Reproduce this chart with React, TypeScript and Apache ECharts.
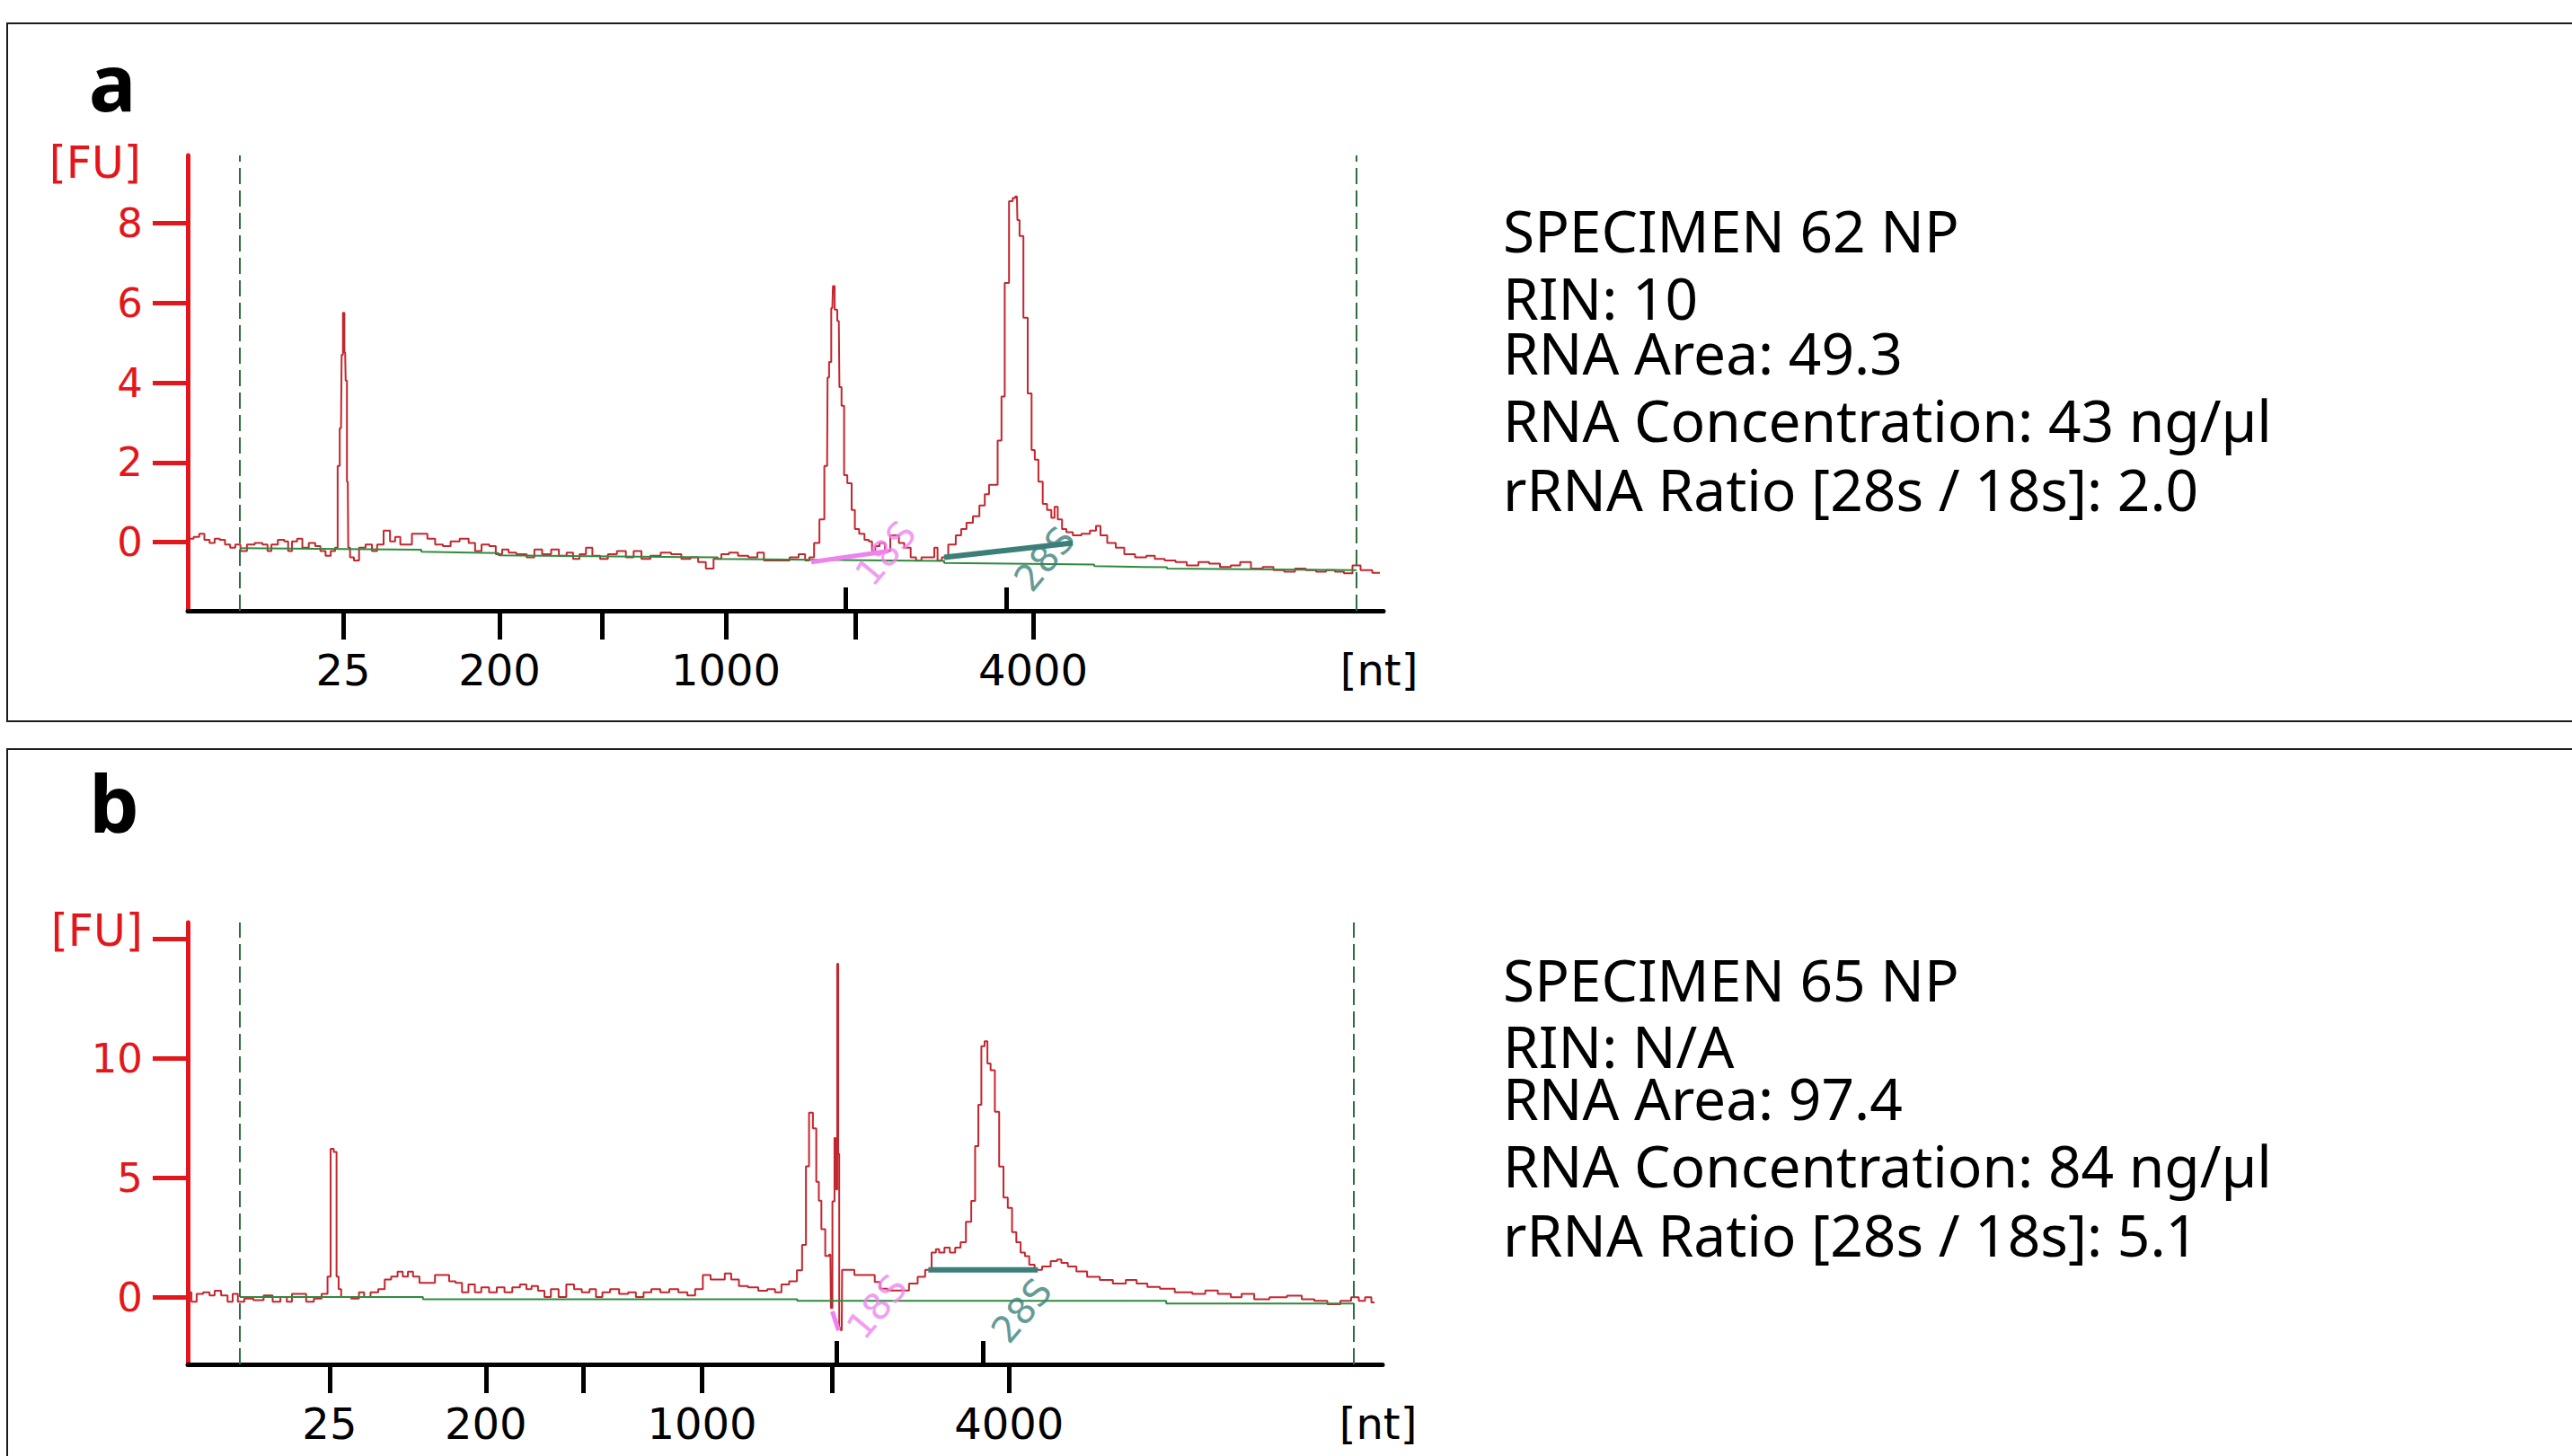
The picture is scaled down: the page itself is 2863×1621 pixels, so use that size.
import React, { useEffect, useRef } from "react";
import * as echarts from "echarts";

// ---------- DATA ----------
// x = migration position (arbitrary time units), y = fluorescence [FU]
const traceA: [number, number][] = [
  [0.3, 0.09], [1.0, 0.13], [1.56, 0.21], [2.14, 0.06], [2.71, -0.02], [3.28, 0.09], [3.86, 0.06], [4.43, -0.06],
  [5.01, -0.14], [5.58, -0.06], [6.15, -0.22], [7.02, -0.06], [7.88, -0.02], [8.74, -0.06], [9.02, -0.22], [9.6, -0.06],
  [10.46, 0.06], [11.03, 0.02], [11.32, -0.22], [11.89, 0.02], [12.47, 0.09], [13.04, -0.14], [13.9, -0.02], [14.48, -0.1],
  [15.05, -0.22], [15.63, -0.34], [16.2, -0.22], [16.6, -0.14], [16.77, 1.91], [17.06, 2.86], [17.2, 4.7], [17.35, 5.75],
  [17.52, 4.76], [17.63, 4.05], [17.81, 1.52], [17.92, -0.14], [18.21, -0.38], [18.78, -0.46], [19.36, -0.14], [20.22, -0.06],
  [20.79, -0.22], [21.37, -0.06], [22.23, 0.29], [22.8, 0.02], [23.37, 0.13], [23.95, -0.06], [24.52, -0.06], [25.38, 0.21],
  [26.24, 0.21], [27.11, 0.09], [27.97, -0.06], [28.83, -0.1], [29.69, 0.02], [30.84, 0.09], [31.7, -0.02], [32.27, -0.22],
  [33.13, -0.06], [34.0, -0.1], [34.57, -0.3], [35.43, -0.18], [36.0, -0.26], [37.15, -0.3], [38.3, -0.38], [38.87, -0.18],
  [40.02, -0.3], [40.88, -0.18], [41.74, -0.34], [42.6, -0.26], [43.18, -0.42], [44.04, -0.3], [44.61, -0.14], [45.47, -0.34],
  [46.33, -0.42], [47.2, -0.3], [48.34, -0.22], [49.2, -0.38], [50.07, -0.22], [50.93, -0.42], [52.07, -0.34], [53.22, -0.26],
  [54.37, -0.3], [55.52, -0.42], [56.38, -0.38], [57.24, -0.5], [58.1, -0.66], [58.96, -0.42], [59.82, -0.3], [60.68, -0.26],
  [61.83, -0.34], [62.98, -0.38], [63.84, -0.26], [64.42, -0.46], [65.56, -0.46], [66.42, -0.46], [67.57, -0.38], [68.43, -0.3],
  [69.01, -0.46], [69.36, -0.38], [70.08, -0.02], [70.55, 0.57], [71.17, 1.91], [71.27, 4.13], [71.51, 4.52], [71.75, 5.87],
  [71.89, 6.42], [72.13, 5.83], [72.47, 5.55], [72.61, 3.89], [72.94, 3.42], [73.18, 1.68], [73.66, 1.48], [74.14, 0.81],
  [74.38, 0.33], [75.09, 0.21], [75.57, 0.06], [76.05, 0.02], [76.29, -0.22], [76.77, -0.1], [77.25, -0.02], [77.96, -0.22],
  [78.44, 0.17], [78.92, 0.17], [79.4, -0.02], [80.11, -0.14], [80.83, -0.38], [81.31, -0.46], [82.03, -0.38], [82.98, -0.38],
  [83.22, -0.14], [83.7, -0.46], [84.18, -0.38], [85.13, -0.06], [85.85, 0.17], [86.33, 0.33], [87.04, 0.49], [87.76, 0.65],
  [88.48, 0.92], [88.96, 1.2], [89.43, 1.44], [89.91, 1.44], [90.39, 2.55], [90.77, 3.65], [91.11, 6.5], [91.73, 8.55],
  [91.92, 8.63], [92.3, 8.67], [92.4, 8.08], [92.78, 7.68], [93.26, 5.63], [93.74, 3.73], [94.12, 2.31], [94.45, 2.07],
  [94.93, 1.52], [95.41, 0.96], [95.89, 0.81], [96.37, 0.61], [96.6, 0.89], [97.08, 0.57], [97.56, 0.33], [98.04, 0.25],
  [99.0, 0.17], [99.95, 0.21], [100.9, 0.29], [101.3, 0.41], [101.9, 0.17], [102.8, -0.02], [103.8, -0.14], [104.7, -0.3],
  [106.2, -0.38], [107.2, -0.34], [108.1, -0.42], [109.4, -0.46], [110.5, -0.5], [111.9, -0.58], [113.1, -0.5], [114.3, -0.54],
  [115.5, -0.62], [116.7, -0.58], [117.6, -0.5], [119.1, -0.66], [120.2, -0.62], [121.5, -0.7], [122.6, -0.74], [123.9, -0.66],
  [125.0, -0.7], [126.2, -0.74], [127.2, -0.7], [128.2, -0.74], [129.2, -0.78], [130.1, -0.58], [131.0, -0.7], [132.7, -0.77],
];

const baselineA: [number, number][] = [
  [5.8, -0.15], [26.0, -0.19], [26.0, -0.24], [34.6, -0.27], [34.6, -0.33], [59.0, -0.38], [59.0, -0.42],
  [84.2, -0.47], [84.2, -0.52], [100.9, -0.56], [100.9, -0.6], [109.0, -0.63], [109.0, -0.66], [130.1, -0.7],
];
const rRNA18A: [number, number][] = [[69.4, -0.5], [78.0, -0.22]];
const rRNA28A: [number, number][] = [[84.2, -0.38], [98.5, -0.02]];

const traceB: [number, number][] = [
  [0.13, 0.2], [0.7, -0.2], [1.28, 0.13], [2.14, 0.2], [2.71, 0.07], [3.28, 0.26], [4.15, 0.07], [4.72, -0.2],
  [5.29, 0.13], [5.87, -0.2], [6.73, -0.07], [7.88, -0.13], [9.02, 0.07], [9.89, -0.2], [10.75, 0.0], [11.32, -0.2],
  [11.89, 0.13], [12.76, 0.13], [13.62, -0.2], [14.48, -0.07], [15.34, 0.13], [15.8, 0.86], [16.03, 6.2], [16.49, 6.07],
  [16.66, 0.86], [16.95, 0.33], [17.23, 0.0], [17.63, 0.0], [18.78, -0.07], [19.36, 0.2], [19.93, 0.0], [20.79, 0.2],
  [21.65, 0.33], [22.23, 0.73], [23.09, 0.86], [23.66, 1.06], [24.24, 0.86], [24.81, 1.06], [25.38, 0.86], [26.24, 0.59],
  [27.11, 0.59], [27.97, 0.92], [28.83, 0.92], [29.4, 0.66], [30.26, 0.59], [30.84, 0.2], [31.7, 0.53], [32.27, 0.2],
  [33.13, 0.4], [34.0, 0.2], [34.85, 0.4], [35.72, 0.2], [36.58, 0.4], [37.44, 0.53], [38.01, 0.33], [38.59, 0.46],
  [39.45, 0.26], [40.02, 0.0], [40.88, 0.33], [41.74, 0.0], [42.6, 0.53], [43.46, 0.33], [44.33, 0.2], [45.19, 0.33],
  [45.76, 0.0], [46.62, 0.2], [47.48, 0.33], [48.63, 0.13], [49.49, 0.2], [50.35, 0.0], [51.21, 0.2], [52.07, 0.33],
  [53.22, 0.2], [54.08, 0.33], [55.23, 0.2], [56.09, 0.07], [56.95, 0.33], [57.81, 0.92], [58.68, 0.73], [59.54, 0.73],
  [60.11, 0.99], [60.97, 0.73], [61.83, 0.46], [62.98, 0.4], [64.13, 0.26], [64.99, 0.33], [65.85, 0.2], [66.42, 0.53],
  [67.57, 0.66], [68.15, 1.12], [68.72, 2.18], [69.01, 5.47], [69.41, 7.72], [69.87, 7.06], [70.16, 4.82], [70.44, 4.03],
  [70.73, 2.84], [71.3, 1.72], [71.59, 1.78], [71.7, -0.46], [71.93, 4.0], [72.16, 6.66], [72.3, 4.5], [72.4, 13.95],
  [72.52, 6.0], [72.62, -1.3], [72.85, -1.39], [72.94, 1.14], [74.14, 1.14], [74.38, 0.92], [76.29, 0.92], [76.77, 0.63],
  [77.48, 0.35], [78.44, 0.27], [79.87, 0.27], [80.83, 0.56], [81.79, 0.85], [82.5, 1.14], [83.22, 1.86], [83.46, 2.0],
  [83.94, 1.86], [84.65, 2.07], [85.13, 1.86], [85.85, 2.07], [86.33, 2.29], [87.04, 3.15], [87.52, 4.02], [87.9, 6.32],
  [88.24, 8.05], [88.57, 10.5], [88.96, 10.71], [89.2, 9.78], [89.67, 9.49], [90.15, 7.76], [90.63, 5.46], [91.11, 4.16],
  [91.59, 3.73], [92.06, 2.72], [92.54, 2.29], [93.02, 1.86], [93.5, 1.71], [93.98, 1.35], [94.69, 1.14], [95.65, 1.28],
  [96.6, 1.5], [97.08, 1.57], [97.56, 1.43], [98.52, 1.28], [99.47, 1.07], [100.9, 0.85], [102.3, 0.71], [103.8, 0.56],
  [105.2, 0.71], [106.2, 0.56], [107.6, 0.42], [109.0, 0.35], [110.9, 0.2], [112.9, 0.13], [113.8, 0.27], [115.7, 0.13],
  [116.7, -0.01], [118.1, 0.13], [119.5, -0.09], [121.5, -0.01], [123.4, 0.06], [124.8, -0.09], [126.2, -0.16], [127.7, -0.3],
  [129.1, -0.16], [130.1, -0.01], [130.8, -0.16], [131.5, -0.01], [132.2, -0.23],
];

const baselineB: [number, number][] = [
  [5.8, 0.0], [26.2, 0.0], [26.2, -0.09], [67.9, -0.09], [67.9, -0.16], [109.0, -0.16], [109.0, -0.27], [129.9, -0.27],
];
const rRNA18B: [number, number][] = [[71.8, -0.6], [72.5, -1.4]];
const rRNA28B: [number, number][] = [[82.5, 1.14], [94.7, 1.14]];

// ladder ticks (position -> nt label)
const ladderA = [17.3, 34.7, 46.1, 59.9, 74.3, 94.1];
const ladderB = [15.8, 33.2, 44.1, 57.3, 71.8, 91.5];
const ladderLabels = ["25", "200", "", "1000", "", "4000"];
const markerTicksA = [73.2, 91.1]; // 18S / 28S
const markerTicksB = [72.3, 88.6];
const fenceA = [5.8, 130.1];
const fenceB = [5.8, 129.9];
const ntUnitPos = 132.6;

const yTicksA = [0, 2, 4, 6, 8];
const yTicksB = [0, 5, 10, 15];

const peakLabelsA: [string, number, number][] = [["18S", 77.7, -0.28], ["28S", 95.4, -0.42]];
const peakLabelsB: [string, number, number][] = [["18S", 76.8, -0.41], ["28S", 92.9, -0.57]];

const infoA = ["SPECIMEN 62 NP", "RIN: 10", "RNA Area: 49.3", "RNA Concentration: 43 ng/µl", "rRNA Ratio [28s / 18s]: 2.0"];
const infoB = ["SPECIMEN 65 NP", "RIN: N/A", "RNA Area: 97.4", "RNA Concentration: 84 ng/µl", "rRNA Ratio [28s / 18s]: 5.1"];

// ---------- STYLE ----------
const RED_AXIS = "#e3171b";
const TRACE = "#c4262e";
const GREEN = "#2e8b3e";
const FENCE = "#2c6e3c";
const VIOLET = "#ee82ee";
const TEAL = "#3b7f78";
const AXIS_FONT = "DejaVu Sans";
const TEXT_FONT = '"Comic Sans MS", "Noto Sans", sans-serif';

function buildPanel(idx: number, cfg: any) {
  const xi = idx * 2;
  const labelVals = cfg.ladder.filter((_: number, i: number) => ladderLabels[i] !== "").concat([ntUnitPos]);
  const fmt = (v: number) => {
    if (Math.abs(v - ntUnitPos) < 0.01) return "[nt]";
    const i = cfg.ladder.findIndex((t: number) => Math.abs(t - v) < 0.01);
    return i >= 0 ? ladderLabels[i] : "";
  };
  const xAxes = [
    {
      gridIndex: idx, type: "value", min: 0, max: 133.1,
      axisLine: { show: true, onZero: false, lineStyle: { color: "#000", width: 5 } },
      axisTick: { show: true, customValues: cfg.ladder, length: 32, lineStyle: { color: "#000", width: 5 } },
      axisLabel: { show: true, customValues: labelVals, formatter: fmt, fontSize: 48, color: "#000", fontFamily: AXIS_FONT, margin: 42 },
      splitLine: { show: false },
    },
    {
      gridIndex: idx, type: "value", min: 0, max: 133.1, position: "bottom",
      axisLine: { show: false, onZero: false },
      axisTick: { show: true, inside: true, customValues: cfg.markerTicks, length: 26, lineStyle: { color: "#000", width: 5 } },
      axisLabel: { show: false },
      splitLine: { show: false },
    },
  ];
  const yAxis = {
    gridIndex: idx, type: "value", min: cfg.ymin, max: cfg.ymax,
    axisLine: { show: true, onZero: false, lineStyle: { color: RED_AXIS, width: 5 } },
    axisTick: { show: true, customValues: cfg.yTicks, length: 39, lineStyle: { color: RED_AXIS, width: 5 } },
    axisLabel: {
      show: true, customValues: cfg.yTicks, color: RED_AXIS, fontSize: 45, fontFamily: AXIS_FONT, margin: 50,
      formatter: (v: number) => (cfg.fuAtTop && v === 15 ? "{fu|[FU]}" : String(v)),
      rich: { fu: { fontSize: 49, color: RED_AXIS, fontFamily: AXIS_FONT, padding: [0, 0, 18, 0] } },
    },
    splitLine: { show: false },
  };
  const series = [
    {
      type: "line", name: "trace " + idx, xAxisIndex: xi, yAxisIndex: idx, data: cfg.trace, step: "middle",
      symbol: "none", showSymbol: false, lineStyle: { color: TRACE, width: 2 }, z: 3,
      markLine: {
        silent: true, symbol: ["none", "none"], label: { show: false },
        lineStyle: { color: FENCE, type: [18, 7], width: 2 },
        data: cfg.fence.map((v: number) => ({ xAxis: v })),
      },
    },
    { type: "line", xAxisIndex: xi, yAxisIndex: idx, data: cfg.baseline, symbol: "none", lineStyle: { color: GREEN, width: 2 }, z: 4 },
    { type: "line", xAxisIndex: xi, yAxisIndex: idx, data: cfg.r18, symbol: "none", lineStyle: { color: VIOLET, width: 5 }, z: 5 },
    { type: "line", xAxisIndex: xi, yAxisIndex: idx, data: cfg.r28, symbol: "none", lineStyle: { color: TEAL, width: 6 }, z: 5 },
    {
      type: "scatter", xAxisIndex: xi, yAxisIndex: idx, symbolSize: 1, itemStyle: { color: "rgba(0,0,0,0)" }, z: 6,
      data: cfg.peakLabels.map((p: [string, number, number]) => ({
        name: p[0], value: [p[1], p[2]],
        label: { color: p[0] === "18S" ? VIOLET : TEAL },
      })),
      label: { show: true, position: "inside", formatter: "{b}", rotate: 50, fontSize: 41, fontFamily: AXIS_FONT },
    },
  ];
  return { xAxes, yAxis, series };
}

export default function App() {
  const ref = useRef<HTMLDivElement>(null);
  useEffect(() => {
    if (!ref.current) return;
    const chart = echarts.init(ref.current, undefined, { renderer: "svg" });
    const pa = buildPanel(0, {
      trace: traceA, baseline: baselineA, r18: rRNA18A, r28: rRNA28A, ladder: ladderA, markerTicks: markerTicksA,
      fence: fenceA, ymin: -1.72, ymax: 9.7, yTicks: yTicksA, fuAtTop: false, peakLabels: peakLabelsA,
    });
    const pb = buildPanel(1, {
      trace: traceB, baseline: baselineB, r18: rRNA18B, r28: rRNA28B, ladder: ladderB, markerTicks: markerTicksB,
      fence: fenceB, ymin: -2.82, ymax: 15.68, yTicks: yTicksB, fuAtTop: true, peakLabels: peakLabelsB,
    });
    const infoYA = [256, 331, 392, 467, 544];
    const infoYB = [1090, 1164, 1222, 1297, 1374];
    const textEl = (t: string, x: number, y: number, extra: any = {}) => ({
      type: "text", x, y,
      style: {
        text: t, fill: "#000", fontSize: 64, lineHeight: 54, fontFamily: TEXT_FONT,
        align: "left", verticalAlign: "middle", ...extra,
      },
    });
    const graphic: any[] = [
      { type: "rect", shape: { x: 8, y: 26, width: 3000, height: 777 }, style: { fill: "none", stroke: "#1a1a1a", lineWidth: 2 } },
      { type: "rect", shape: { x: 8, y: 834, width: 3000, height: 1000 }, style: { fill: "none", stroke: "#1a1a1a", lineWidth: 2 } },
      textEl("a", 125, 90, { fontSize: 88, lineHeight: 88, fontWeight: "bold", align: "center" }),
      textEl("b", 127, 893, { fontSize: 88, lineHeight: 88, fontWeight: "bold", align: "center" }),
      textEl("[FU]", 157, 181, { fontSize: 49, lineHeight: 49, fill: RED_AXIS, fontFamily: AXIS_FONT, align: "right" }),
      ...infoA.map((t, i) => textEl(t, 1673, infoYA[i])),
      ...infoB.map((t, i) => textEl(t, 1673, infoYB[i])),
    ];
    chart.setOption({
      animation: false,
      backgroundColor: "#ffffff",
      grid: [
        { left: 209, top: 173, width: 1331, height: 507, outerBoundsMode: "none" },
        { left: 209, top: 1027, width: 1330, height: 492, outerBoundsMode: "none" },
      ],
      xAxis: [...pa.xAxes, ...pb.xAxes],
      yAxis: [pa.yAxis, pb.yAxis],
      series: [...pa.series, ...pb.series],
      graphic,
    });
    return () => chart.dispose();
  }, []);
  return (
    <div
      ref={ref}
      style={{ position: "absolute", left: 0, top: 0, width: 2863, height: 1621, background: "#fff" }}
    />
  );
}
